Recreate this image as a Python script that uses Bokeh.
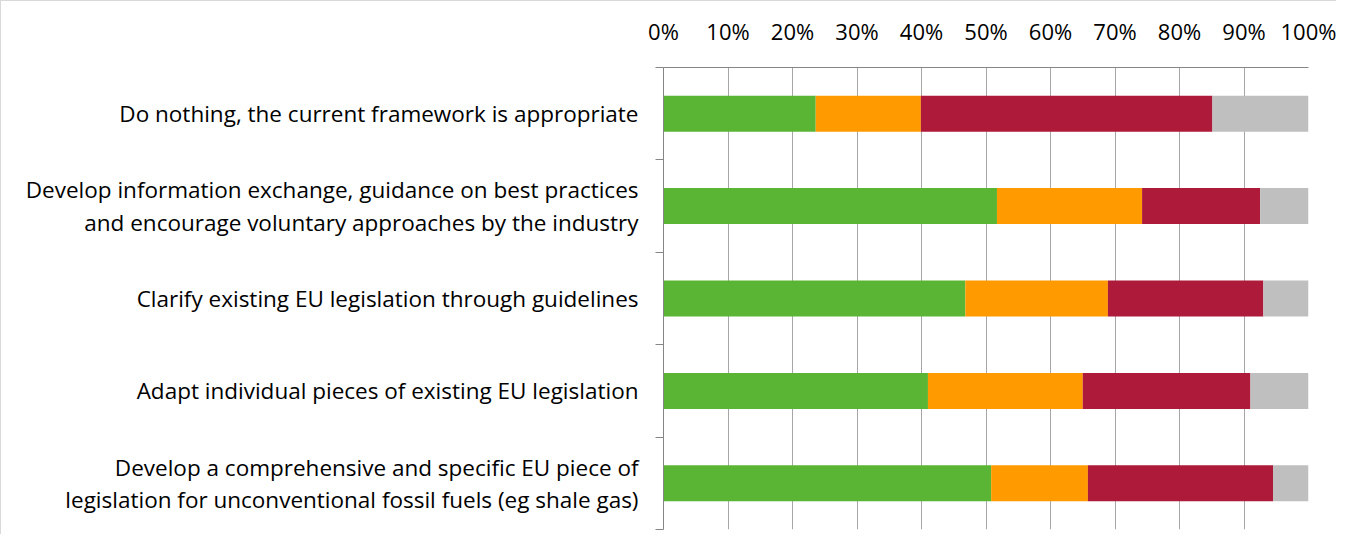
from bokeh.plotting import figure
from bokeh.models import Range1d, FixedTicker, NumeralTickFormatter, ColumnDataSource
from bokeh.embed import file_html
from bokeh.resources import INLINE

categories = [
    "Do nothing, the current framework is appropriate",
    "Develop information exchange, guidance on best practices\nand encourage voluntary approaches by the industry",
    "Clarify existing EU legislation through guidelines",
    "Adapt individual pieces of existing EU legislation",
    "Develop a comprehensive and specific EU piece of\nlegislation for unconventional fossil fuels (eg shale gas)",
]
series_names = ["s1", "s2", "s3", "s4"]
s1 = [0.236, 0.517, 0.468, 0.410, 0.508]
s2 = [0.163, 0.225, 0.221, 0.240, 0.150]
s3 = [0.452, 0.183, 0.241, 0.260, 0.287]
s4 = [0.149, 0.075, 0.070, 0.090, 0.055]
x_ticks = [i / 10 for i in range(11)]
colors = ["#5ab535", "#ff9a00", "#ae1a3a", "#bfbfbf"]

FONT = "Open Sans"

ypos = [i + 0.5 for i in range(len(categories))]
source = ColumnDataSource(dict(y=ypos, s1=s1, s2=s2, s3=s3, s4=s4))

p = figure(width=1336, height=534, output_backend="svg", toolbar_location=None,
           x_range=Range1d(0, 1), y_range=Range1d(len(categories), 0),
           x_axis_location="above",
           min_border_left=662, min_border_right=29, min_border_top=66, min_border_bottom=6)
p.outline_line_color = None
p.background_fill_color = "white"
p.border_fill_color = "white"

p.hbar_stack(series_names, y="y", height=0.39, color=colors, line_color=None, source=source)

# x axis (top)
xa = p.xaxis[0]
xa.ticker = FixedTicker(ticks=x_ticks)
xa.formatter = NumeralTickFormatter(format="0%")
xa.major_tick_out = 0
xa.major_tick_in = 0
xa.minor_tick_out = 0
xa.minor_tick_in = 0
xa.axis_line_color = "#868686"
xa.axis_line_width = 1
xa.major_label_text_font = FONT
xa.major_label_text_font_size = "22px"
xa.major_label_text_color = "#000000"
xa.major_label_standoff = 22

# y axis (left)
ya = p.yaxis[0]
ya.ticker = FixedTicker(ticks=ypos, minor_ticks=list(range(len(categories) + 1)))
ya.major_label_overrides = {y: c for y, c in zip(ypos, categories)}
ya.major_tick_out = 0
ya.major_tick_in = 0
ya.minor_tick_out = 8
ya.minor_tick_in = 0
ya.minor_tick_line_color = "#868686"
ya.axis_line_color = "#868686"
ya.axis_line_width = 1
ya.major_label_text_font = FONT
ya.major_label_text_font_size = "22.5px"
ya.major_label_text_color = "#000000"
ya.major_label_text_line_height = 1.05
ya.major_label_standoff = 17

p.xgrid.grid_line_color = "#a6a6a6"
p.xgrid.grid_line_width = 1
p.xgrid.ticker = FixedTicker(ticks=x_ticks)
p.ygrid.grid_line_color = None

p.styles = {"border-left": "1px solid #d9d9d9", "border-top": "1px solid #d9d9d9"}

open("out.html", "w").write(file_html(p, INLINE))
